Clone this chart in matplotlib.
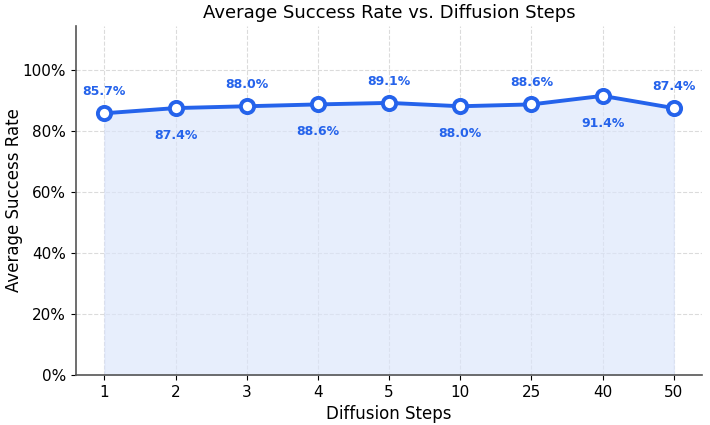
import matplotlib.pyplot as plt
from matplotlib.ticker import PercentFormatter

steps = ['1', '2', '3', '4', '5', '10', '25', '40', '50']
success = [85.7, 87.4, 88.0, 88.6, 89.1, 88.0, 88.6, 91.4, 87.4]

blue = '#2563eb'
x = list(range(len(steps)))

fig = plt.figure(figsize=(7.1, 4.25), dpi=100)
ax = fig.add_axes([0.107, 0.1176, 0.882, 0.8214])

ax.fill_between(x, success, 0, color='#dbe5fb', alpha=0.65, zorder=1)
ax.plot(x, success, color=blue, lw=2.8, marker='o', ms=9.5, mfc='white',
        mec=blue, mew=2.8, zorder=3)

for i, v in enumerate(success):
    if i % 2 == 0:
        ax.annotate(f'{v:.1f}%', (i, v), xytext=(0, 11), textcoords='offset points',
                    ha='center', va='bottom', color=blue, fontsize=9, fontweight='bold')
    else:
        ax.annotate(f'{v:.1f}%', (i, v), xytext=(0, -15), textcoords='offset points',
                    ha='center', va='top', color=blue, fontsize=9, fontweight='bold')

ax.set_xticks(x)
ax.set_xticklabels(steps)
ax.set_xlim(-0.4, 8.4)
ax.set_ylim(0, 114.3)
ax.set_yticks([0, 20, 40, 60, 80, 100])
ax.yaxis.set_major_formatter(PercentFormatter(decimals=0))
ax.tick_params(labelsize=11)

ax.grid(True, ls='--', color='#cccccc', alpha=0.7, lw=0.8)
ax.set_axisbelow(True)
for s in ['top', 'right']:
    ax.spines[s].set_visible(False)
for s in ['left', 'bottom']:
    ax.spines[s].set_color('#555555')
    ax.spines[s].set_linewidth(1.2)

ax.set_xlabel('Diffusion Steps', fontsize=12)
ax.set_ylabel('Average Success Rate', fontsize=12, labelpad=0)
ax.set_title('Average Success Rate vs. Diffusion Steps', fontsize=13)

fig.savefig('out.png', dpi=100)
